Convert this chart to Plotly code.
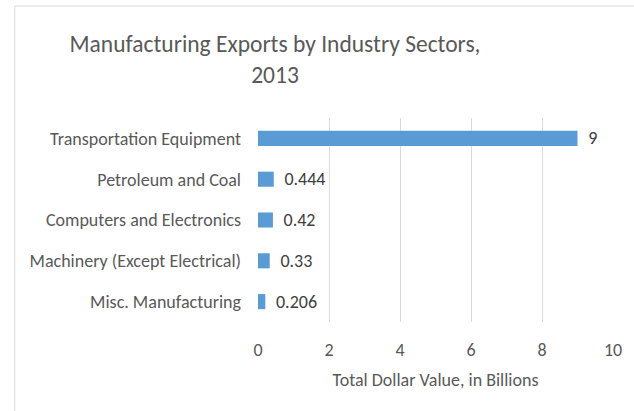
import plotly.graph_objects as go

categories = ["Transportation Equipment", "Petroleum and Coal", "Computers and Electronics",
              "Machinery (Except Electrical)", "Misc. Manufacturing"]
values = [9, 0.444, 0.42, 0.33, 0.206]
value_labels = ["9", "0.444", "0.42", "0.33", "0.206"]
tick_vals = [0, 2, 4, 6, 8, 10]

W, H = 634, 411
L, R, T, B = 258, 17, 118, 89
pw, ph = W - L - R, H - T - B

FONT = "Carlito, Lato, Calibri, sans-serif"

fig = go.Figure(go.Bar(
    y=categories[::-1], x=values[::-1], orientation="h",
    marker=dict(color="#5b9bd5", line=dict(width=0)),
    text=[" \u2009" + t for t in value_labels[::-1]], textposition="outside",
    constraintext="none",
    textfont=dict(color="#404040", size=18, family=FONT),
    cliponaxis=False,
))

def px2paper_x(p):
    return (p - L) / pw

def px2paper_y(p):
    return (H - B - p) / ph

fig.update_layout(
    width=W, height=H,
    margin=dict(l=L, r=R, t=T, b=B),
    paper_bgcolor="white", plot_bgcolor="white",
    bargap=0.63,
    showlegend=False,
    title=dict(text="Manufacturing Exports by Industry Sectors,<br>2013",
               x=275 / W, xref="container", xanchor="center",
               y=1 - 52 / H, yref="container", yanchor="middle",
               font=dict(family=FONT, size=23.5, color="#595959")),
    xaxis=dict(range=[0, 10], tickvals=tick_vals, showgrid=True, gridcolor="#d9d9d9",
               gridwidth=1, zeroline=False, showline=False,
               tickfont=dict(family=FONT, size=18, color="#595959"),
               ticks="", ticklabelstandoff=15,
               title=dict(text="Total Dollar Value, in Billions",
                          font=dict(family=FONT, size=18, color="#595959"), standoff=13)),
    yaxis=dict(showgrid=False, zeroline=False, showline=False, ticks="",
               tickfont=dict(family=FONT, size=18, color="#595959"),
               ticklabelstandoff=16),
    shapes=[dict(type="rect", xref="paper", yref="paper",
                 x0=px2paper_x(12), x1=px2paper_x(W + 20),
                 y0=px2paper_y(H + 20), y1=px2paper_y(6),
                 line=dict(color="#d9d9d9", width=1), fillcolor="rgba(0,0,0,0)",
                 layer="below")],
)

fig.write_html("out.html", config={"displayModeBar": False},
               post_script="document.body.style.margin='0';")
